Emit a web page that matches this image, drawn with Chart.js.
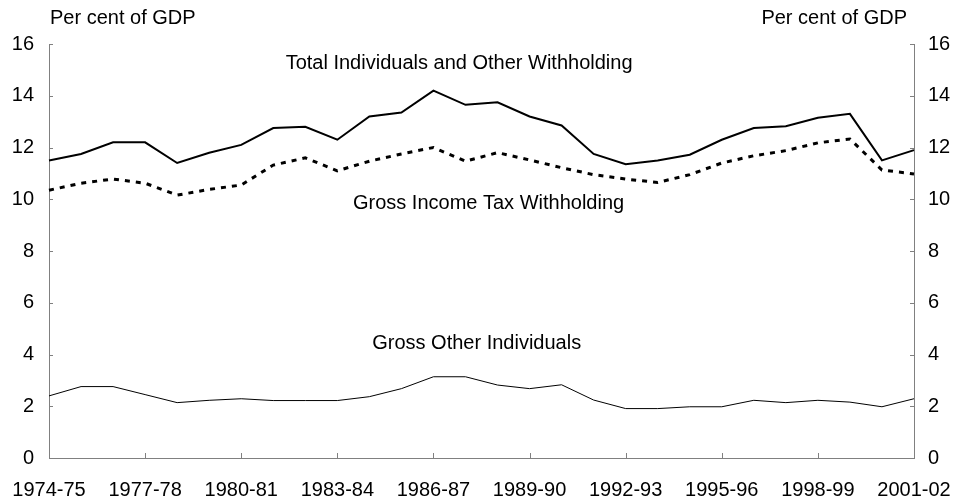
<!DOCTYPE html>
<html>
<head>
<meta charset="utf-8">
<script src="https://cdn.jsdelivr.net/npm/chart.js@4.4.1/dist/chart.umd.min.js"></script>
<style>
  html, body { margin: 0; padding: 0; background: #fff; }
  #wrap { width: 957px; height: 501px; }
</style>
</head>
<body>
<div id="wrap"><canvas id="c" width="957" height="501"></canvas></div>
<script>
// Financial years
const years = [
  '1974-75','1975-76','1976-77','1977-78','1978-79','1979-80','1980-81',
  '1981-82','1982-83','1983-84','1984-85','1985-86','1986-87','1987-88',
  '1988-89','1989-90','1990-91','1991-92','1992-93','1993-94','1994-95',
  '1995-96','1996-97','1997-98','1998-99','1999-00','2000-01','2001-02'
];

// Per cent of GDP
const totalIndividuals = [
  11.5, 11.75, 12.2, 12.2, 11.4, 11.8, 12.1, 12.75, 12.8, 12.3, 13.2, 13.35,
  14.2, 13.65, 13.75, 13.2, 12.85, 11.75, 11.35, 11.5, 11.72, 12.3, 12.75,
  12.82, 13.15, 13.3, 11.5, 11.9
];
const grossIncomeTax = [
  10.35, 10.62, 10.78, 10.62, 10.16, 10.38, 10.55, 11.32, 11.6, 11.1, 11.47,
  11.75, 12.0, 11.47, 11.8, 11.52, 11.22, 10.95, 10.78, 10.65, 10.95, 11.4,
  11.68, 11.88, 12.18, 12.33, 11.13, 10.98
];
const grossOther = [
  2.4, 2.76, 2.76, 2.45, 2.14, 2.23, 2.29, 2.22, 2.22, 2.22, 2.37, 2.68,
  3.14, 3.14, 2.82, 2.68, 2.83, 2.24, 1.91, 1.91, 1.98, 1.98, 2.23, 2.14,
  2.23, 2.16, 1.98, 2.29
];

const yTicks = [0, 2, 4, 6, 8, 10, 12, 14, 16];
const unitLabel = 'Per cent of GDP';

// Series names, placed near each line at (category index, value)
const seriesLabels = [
  { text: 'Total Individuals and Other Withholding', x: 12.8, y: 15.23 },
  { text: 'Gross Income Tax Withholding', x: 13.72, y: 9.85 },
  { text: 'Gross Other Individuals', x: 13.35, y: 4.42 }
];

const FONT = '"Liberation Sans", Arial, sans-serif';
const AXIS_COLOR = '#808080';

// Inward tick marks, unit captions and in-chart series names
const decorations = {
  id: 'decorations',
  afterDraw(chart) {
    const { ctx, chartArea: a } = chart;
    const x = chart.scales.x, y = chart.scales.y;
    ctx.save();
    ctx.strokeStyle = AXIS_COLOR;
    ctx.lineWidth = 1;
    ctx.beginPath();
    yTicks.forEach(v => {
      const py = Math.round(y.getPixelForValue(v)) + 0.5;
      ctx.moveTo(a.left, py); ctx.lineTo(a.left + 4, py);
      ctx.moveTo(a.right, py); ctx.lineTo(a.right - 4, py);
    });
    years.forEach((_, i) => {
      if (i % 3 !== 0) return;
      const px = Math.round(x.getPixelForValue(i)) + 0.5;
      ctx.moveTo(px, a.bottom); ctx.lineTo(px, a.bottom - 5);
    });
    ctx.stroke();

    ctx.fillStyle = '#000';
    ctx.font = '20px ' + FONT;
    ctx.textBaseline = 'middle';
    ctx.textAlign = 'left';
    ctx.fillText(unitLabel, 50, 18);
    ctx.textAlign = 'right';
    ctx.fillText(unitLabel, 907, 18);

    ctx.textAlign = 'center';
    seriesLabels.forEach(l => {
      ctx.fillText(l.text, x.getPixelForValue(l.x), y.getPixelForValue(l.y));
    });
    ctx.restore();
  }
};

const tickFont = { family: FONT, size: 20 };

new Chart(document.getElementById('c'), {
  type: 'line',
  data: {
    labels: years,
    datasets: [
      {
        label: 'Total Individuals and Other Withholding',
        data: totalIndividuals,
        borderColor: '#000',
        borderWidth: 2,
        pointRadius: 0,
        tension: 0
      },
      {
        label: 'Gross Income Tax Withholding',
        data: grossIncomeTax,
        borderColor: '#000',
        borderWidth: 3,
        borderDash: [5, 6],
        pointRadius: 0,
        tension: 0
      },
      {
        label: 'Gross Other Individuals',
        data: grossOther,
        borderColor: '#000',
        borderWidth: 1,
        pointRadius: 0,
        tension: 0
      }
    ]
  },
  options: {
    responsive: false,
    animation: false,
    layout: { padding: { top: 44, left: 0, right: 0, bottom: 0 } },
    plugins: {
      legend: { display: false },
      tooltip: { enabled: false }
    },
    scales: {
      x: {
        grid: { display: false, drawTicks: false },
        border: { display: true, color: AXIS_COLOR, width: 1 },
        ticks: {
          autoSkip: false,
          maxRotation: 0,
          minRotation: 0,
          padding: 20,
          color: '#000',
          font: tickFont,
          callback: (v, i) => (i % 3 === 0 ? years[i] : '')
        },
        afterFit: s => { s.height = 43; s.paddingLeft = 0; s.paddingRight = 0; }
      },
      y: {
        position: 'left',
        min: 0, max: 16,
        grid: { display: false, drawTicks: false },
        border: { display: true, color: AXIS_COLOR, width: 1 },
        ticks: { stepSize: 2, padding: 15, color: '#000', font: tickFont },
        afterFit: s => { s.width = 49; }
      },
      y2: {
        position: 'right',
        min: 0, max: 16,
        grid: { display: false, drawTicks: false },
        border: { display: true, color: AXIS_COLOR, width: 1 },
        ticks: { stepSize: 2, padding: 14, color: '#000', font: tickFont },
        afterFit: s => { s.width = 43; }
      }
    }
  },
  plugins: [decorations]
});
</script>
</body>
</html>
